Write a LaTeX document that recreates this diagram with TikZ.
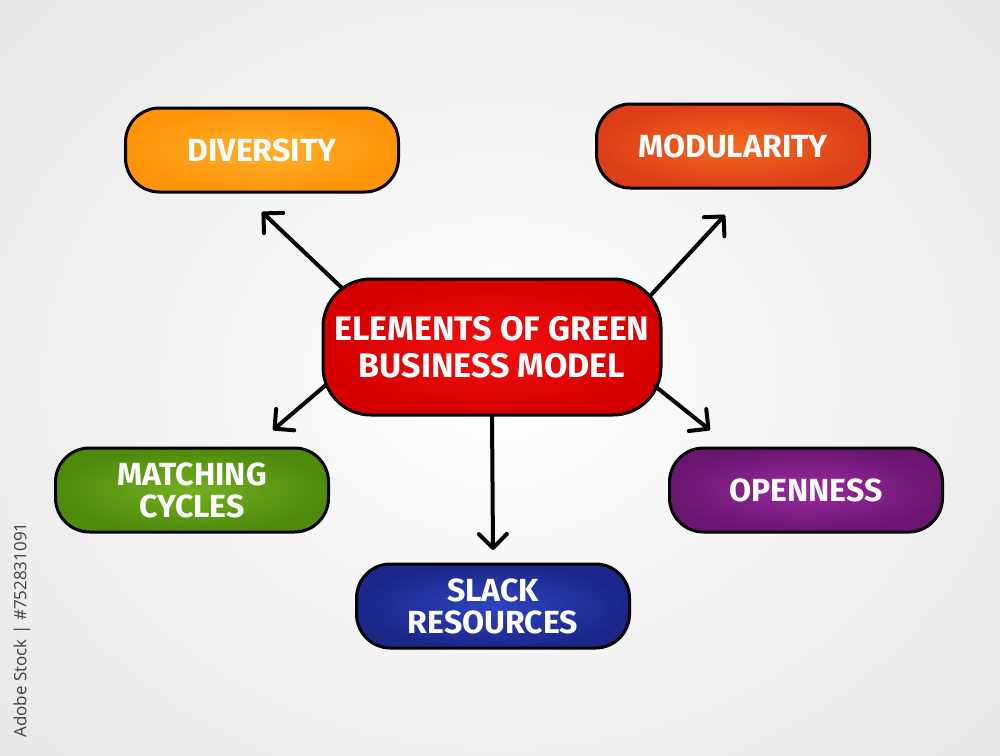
\documentclass[tikz,border=0pt]{standalone}
\usepackage{fontspec}
\setmainfont{Fira Sans}
\newfontfamily\wmfont{Open Sans}
\usetikzlibrary{arrows.meta,shadings}
\definecolor{bggray}{HTML}{E9E9E9}
\definecolor{orI}{HTML}{FFB22E}\definecolor{orO}{HTML}{FF9408}
\definecolor{moI}{HTML}{F46A1E}\definecolor{moO}{HTML}{DC3E18}
\definecolor{reI}{HTML}{F41010}\definecolor{reO}{HTML}{D40000}
\definecolor{grI}{HTML}{74B020}\definecolor{grO}{HTML}{4E8A0C}
\definecolor{puI}{HTML}{9A2AA0}\definecolor{puO}{HTML}{6A1670}
\definecolor{blI}{HTML}{2E44C0}\definecolor{blO}{HTML}{1A2688}
\definecolor{wmgray}{HTML}{404040}
\begin{document}
\begin{tikzpicture}[x=1pt,y=-1pt,
  box/.style={draw=black,line width=3pt,rounded corners=34pt,
    minimum width=273pt,minimum height=84pt,text=white,inner sep=0pt,
    font=\fontsize{32}{32}\selectfont\bfseries,align=center},
  arr/.style={line width=4pt,line cap=round,
    -{Straight Barb[length=14pt,width=28pt,line cap=round,line join=round]}}]
\useasboundingbox (0,0) rectangle (1000,755);
\shade[inner color=white,outer color=bggray] (-150,-150) rectangle (1150,905);
\node[box,inner color=orI,outer color=orO] (div) at (262,150) {DIVERSITY};
\node[box,inner color=moI,outer color=moO] (mod) at (733,146) {MODULARITY};
\node[box,inner color=reI,outer color=reO,minimum width=338pt,minimum height=136pt,
  rounded corners=48pt,font=\fontsize{34}{37}\selectfont\bfseries] (ctr) at (492,347)
  {ELEMENTS OF GREEN\\BUSINESS MODEL};
\node[box,inner color=grI,outer color=grO] (mat) at (192,490) {MATCHING\\CYCLES};
\node[box,inner color=puI,outer color=puO] (ope) at (806,490) {OPENNESS};
\node[box,inner color=blI,outer color=blO] (sla) at (493,606) {SLACK\\RESOURCES};
\coordinate (aDiv) at (262,212);
\coordinate (aMod) at (725,215);
\coordinate (aMat) at (273,430);
\coordinate (aOpe) at (710,430);
\coordinate (aSla) at (493,550);
\draw[arr] (ctr.north west) ++(20,10) -- (aDiv);
\draw[arr] (ctr.north east) ++(-12,18) -- (aMod);
\draw[arr] (ctr.south west) ++(5,-32) -- (aMat);
\draw[arr] (ctr.south east) ++(-7,-30) -- (aOpe);
\draw[arr] (ctr.south) -- (aSla);
\node[rotate=90,text=wmgray,font=\wmfont\fontsize{17}{20}\selectfont] (wm) at (22,630)
  {Adobe Stock | \#752831091};
\end{tikzpicture}
\end{document}
